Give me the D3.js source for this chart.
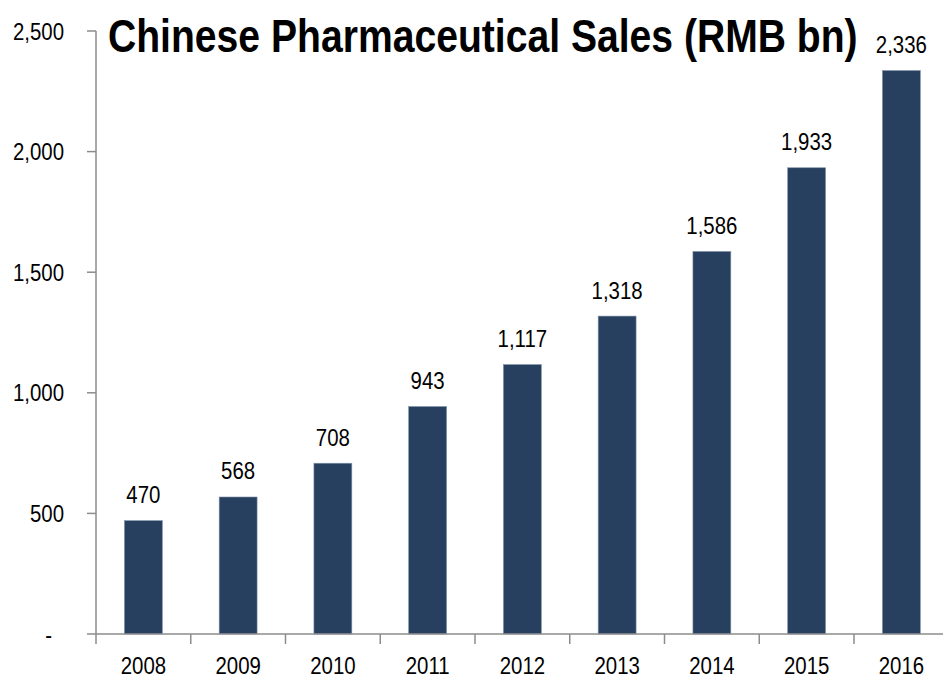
<!DOCTYPE html>
<html>
<head>
<meta charset="utf-8">
<script src="https://cdn.jsdelivr.net/npm/d3@7"></script>
<style>
  html, body { margin: 0; padding: 0; background: #fff; }
  svg { display: block; }
  text { font-family: "Liberation Sans Narrow", "Arial Narrow", "Liberation Sans", Arial, sans-serif; fill: #000; }
</style>
</head>
<body>
<svg id="chart" width="943" height="679"></svg>
<script>
// Sales by year, RMB bn
const years = ["2008", "2009", "2010", "2011", "2012", "2013", "2014", "2015", "2016"];
const sales = [470, 568, 708, 943, 1117, 1318, 1586, 1933, 2336];
const yTicks = [0, 500, 1000, 1500, 2000, 2500];
const title = "Chinese Pharmaceutical Sales (RMB bn)";

(function draw() {
  const svg = d3.select("#chart");
  const plotLeft = 96, plotRight = 948.75, plotTop = 31, plotBottom = 634;
  const axisColor = "#8c8c8c";
  const barColor = "#27405f";
  const narrow = 0.85; // horizontal squeeze for a condensed look

  const x = d3.scaleBand().domain(years).range([plotLeft, plotRight]).paddingInner(0.6).paddingOuter(0.3);
  const y = d3.scaleLinear().domain([0, 2500]).range([plotBottom, plotTop]);
  const step = x.step();
  const fmt = d3.format(",");

  // place a text at (px, py) squeezed horizontally
  const place = (px, py, s = narrow) => `translate(${px},${py}) scale(${s},1)`;

  // bars
  svg.append("g").selectAll("rect").data(years).join("rect")
    .attr("x", d => x(d))
    .attr("width", x.bandwidth())
    .attr("y", (d, i) => y(sales[i]))
    .attr("height", (d, i) => y(0) - y(sales[i]))
    .attr("fill", barColor)
    .attr("stroke", "#7f91a8")
    .attr("stroke-width", 0.6);

  // value labels
  svg.append("g").selectAll("text").data(years).join("text")
    .attr("transform", (d, i) => place(x(d) + x.bandwidth() / 2, y(sales[i]) - 17.5))
    .attr("text-anchor", "middle")
    .attr("font-size", 24)
    .text((d, i) => fmt(sales[i]));

  // y axis
  const yAxis = svg.append("g");
  yAxis.append("line")
    .attr("x1", plotLeft).attr("x2", plotLeft)
    .attr("y1", y(2500)).attr("y2", y(0))
    .attr("stroke", axisColor).attr("stroke-width", 1.5);
  yAxis.selectAll("line.tick").data(yTicks).join("line")
    .attr("class", "tick")
    .attr("x1", plotLeft - 9).attr("x2", plotLeft)
    .attr("y1", d => y(d)).attr("y2", d => y(d))
    .attr("stroke", axisColor).attr("stroke-width", 1.5);
  yAxis.selectAll("text").data(yTicks).join("text")
    .attr("transform", d => place(d === 0 ? 52 : 64, y(d)))
    .attr("dy", "0.36em")
    .attr("text-anchor", "end")
    .attr("font-size", 24)
    .text(d => d === 0 ? "-" : fmt(d));

  // x axis
  const xAxis = svg.append("g");
  xAxis.append("line")
    .attr("x1", plotLeft).attr("x2", plotRight)
    .attr("y1", plotBottom).attr("y2", plotBottom)
    .attr("stroke", axisColor).attr("stroke-width", 1.5);
  xAxis.selectAll("line.tick").data(d3.range(years.length + 1)).join("line")
    .attr("class", "tick")
    .attr("x1", i => plotLeft + i * step).attr("x2", i => plotLeft + i * step)
    .attr("y1", plotBottom).attr("y2", plotBottom + 10)
    .attr("stroke", axisColor).attr("stroke-width", 1.5);
  xAxis.selectAll("text").data(years).join("text")
    .attr("transform", d => place(x(d) + x.bandwidth() / 2, 673.5))
    .attr("text-anchor", "middle")
    .attr("font-size", 24)
    .text(d => d);

  // title, squeezed to span 108..858
  const t = svg.append("text")
    .attr("font-size", 47)
    .attr("font-weight", "bold")
    .text(title);
  const natural = t.node().getComputedTextLength();
  t.attr("transform", place(108, 52, 750 / natural));
})();
</script>
</body>
</html>
